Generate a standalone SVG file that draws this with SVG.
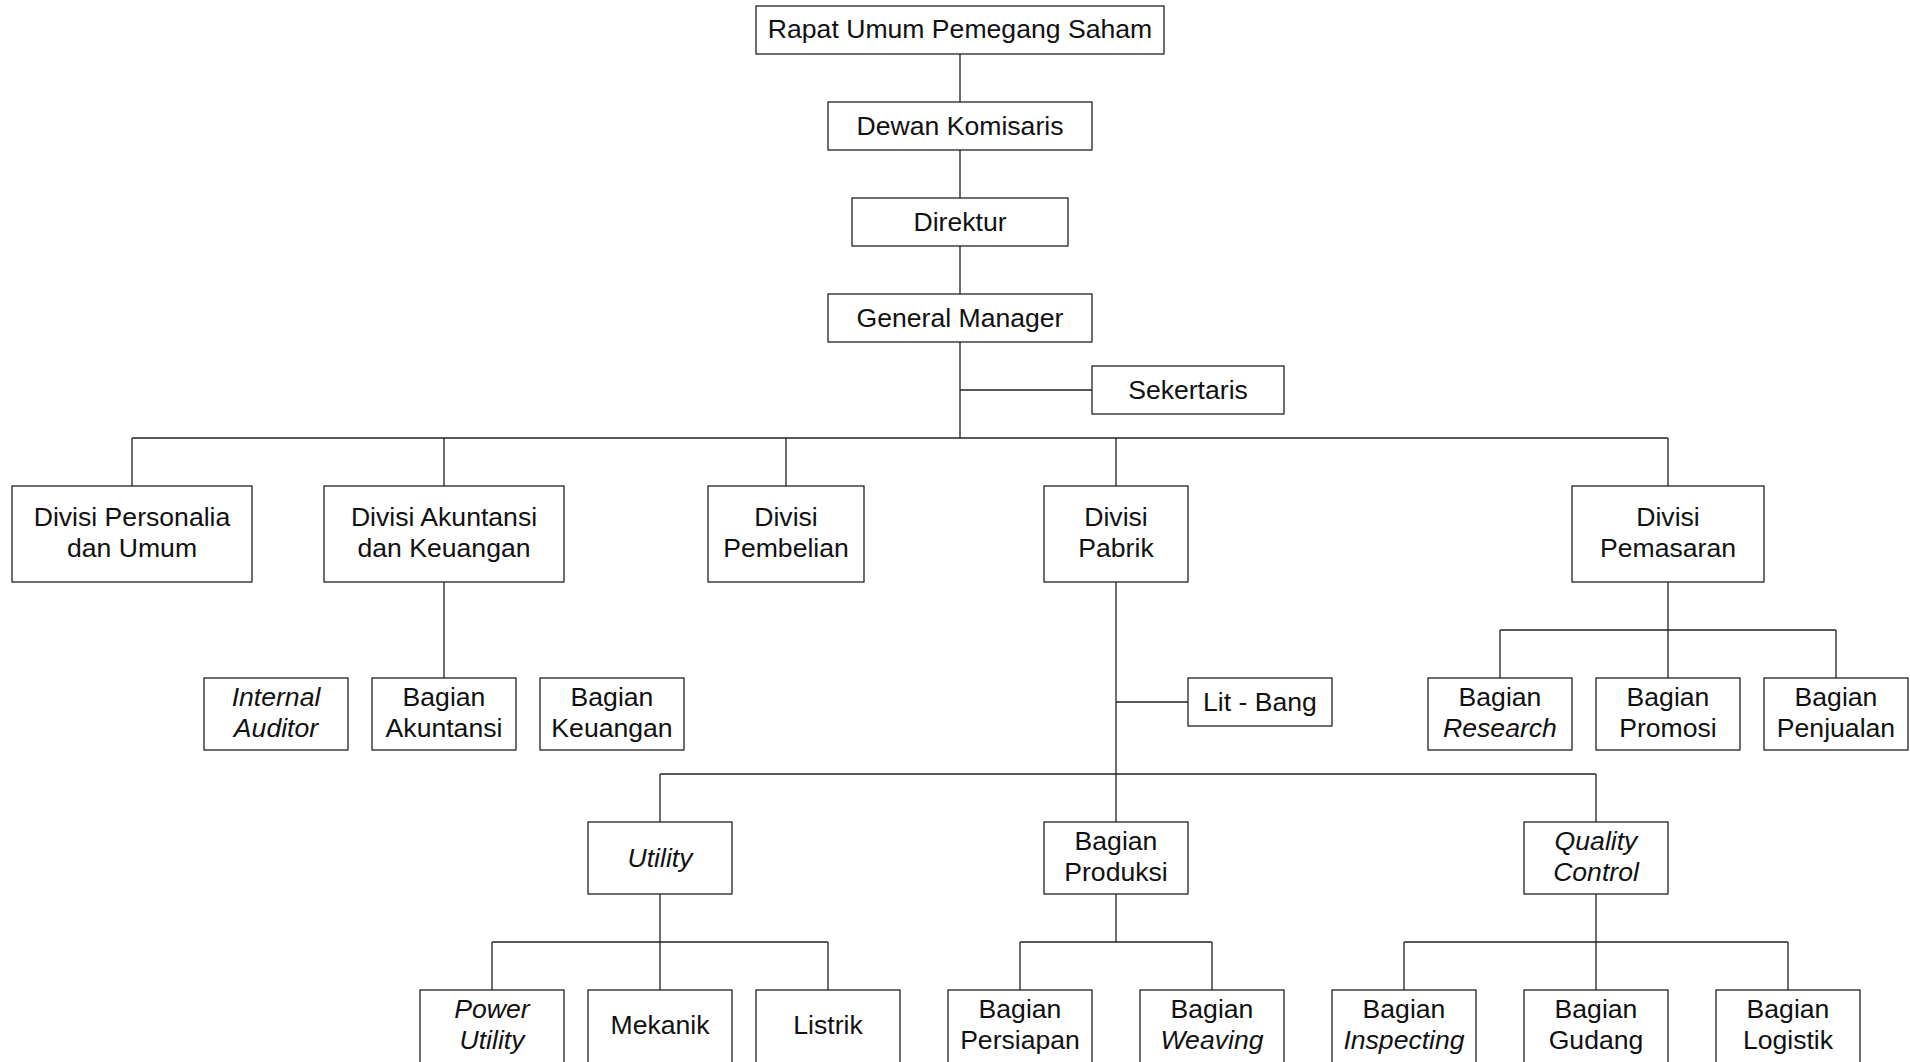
<svg xmlns="http://www.w3.org/2000/svg" width="1910" height="1062" viewBox="0 0 1910 1062">
<style>
rect.b{fill:#fff;stroke:#222;stroke-width:1.3}
text{font-family:"Liberation Sans",Arial,sans-serif;font-size:26.6px;fill:#111;text-anchor:middle}
.i{font-style:italic}
#connectors path{fill:none;stroke:#222;stroke-width:1.3}
</style>
<rect width="1910" height="1062" fill="#fff"/>
<g id="connectors">
<path d="M960 54V294M960 342V438M960 390H1092"/>
<path d="M132 438H1668M132 438V486M444 438V486M786 438V486M1116 438V486M1668 438V486"/>
<path d="M444 582V678"/>
<path d="M1116 582V774M1116 702H1188"/>
<path d="M1668 582V678M1500 630H1836M1500 630V678M1836 630V678"/>
<path d="M660 774H1596M660 774V822M1116 774V822M1596 774V822"/>
<path d="M660 894V990M492 942H828M492 942V990M828 942V990"/>
<path d="M1116 894V942M1020 942H1212M1020 942V990M1212 942V990"/>
<path d="M1596 894V990M1404 942H1788M1404 942V990M1788 942V990"/>
</g>
<g id="n-rups"><rect class="b" x="756" y="6" width="408" height="48"/><text x="960" y="38">Rapat Umum Pemegang Saham</text></g>
<g id="n-dewan"><rect class="b" x="828" y="102" width="264" height="48"/><text x="960" y="135">Dewan Komisaris</text></g>
<g id="n-direktur"><rect class="b" x="852" y="198" width="216" height="48"/><text x="960" y="231">Direktur</text></g>
<g id="n-gm"><rect class="b" x="828" y="294" width="264" height="48"/><text x="960" y="327">General Manager</text></g>
<g id="n-sekertaris"><rect class="b" x="1092" y="366" width="192" height="48"/><text x="1188" y="399">Sekertaris</text></g>

<g id="n-personalia"><rect class="b" x="12" y="486" width="240" height="96"/><text x="132" y="526">Divisi Personalia</text><text x="132" y="557">dan Umum</text></g>
<g id="n-akuntansi"><rect class="b" x="324" y="486" width="240" height="96"/><text x="444" y="526">Divisi Akuntansi</text><text x="444" y="557">dan Keuangan</text></g>
<g id="n-pembelian"><rect class="b" x="708" y="486" width="156" height="96"/><text x="786" y="526">Divisi</text><text x="786" y="557">Pembelian</text></g>
<g id="n-pabrik"><rect class="b" x="1044" y="486" width="144" height="96"/><text x="1116" y="526">Divisi</text><text x="1116" y="557">Pabrik</text></g>
<g id="n-pemasaran"><rect class="b" x="1572" y="486" width="192" height="96"/><text x="1668" y="526">Divisi</text><text x="1668" y="557">Pemasaran</text></g>

<g id="n-auditor"><rect class="b" x="204" y="678" width="144" height="72"/><text class="i" x="276" y="706">Internal</text><text class="i" x="276" y="737">Auditor</text></g>
<g id="n-bag-akuntansi"><rect class="b" x="372" y="678" width="144" height="72"/><text x="444" y="706">Bagian</text><text x="444" y="737">Akuntansi</text></g>
<g id="n-bag-keuangan"><rect class="b" x="540" y="678" width="144" height="72"/><text x="612" y="706">Bagian</text><text x="612" y="737">Keuangan</text></g>
<g id="n-litbang"><rect class="b" x="1188" y="678" width="144" height="48"/><text x="1260" y="711">Lit - Bang</text></g>
<g id="n-research"><rect class="b" x="1428" y="678" width="144" height="72"/><text x="1500" y="706">Bagian</text><text class="i" x="1500" y="737">Research</text></g>
<g id="n-promosi"><rect class="b" x="1596" y="678" width="144" height="72"/><text x="1668" y="706">Bagian</text><text x="1668" y="737">Promosi</text></g>
<g id="n-penjualan"><rect class="b" x="1764" y="678" width="144" height="72"/><text x="1836" y="706">Bagian</text><text x="1836" y="737">Penjualan</text></g>

<g id="n-utility"><rect class="b" x="588" y="822" width="144" height="72"/><text class="i" x="660" y="867">Utility</text></g>
<g id="n-produksi"><rect class="b" x="1044" y="822" width="144" height="72"/><text x="1116" y="850">Bagian</text><text x="1116" y="881">Produksi</text></g>
<g id="n-qc"><rect class="b" x="1524" y="822" width="144" height="72"/><text class="i" x="1596" y="850">Quality</text><text class="i" x="1596" y="881">Control</text></g>

<g id="n-power"><rect class="b" x="420" y="990" width="144" height="80"/><text class="i" x="492" y="1018">Power</text><text class="i" x="492" y="1049">Utility</text></g>
<g id="n-mekanik"><rect class="b" x="588" y="990" width="144" height="80"/><text x="660" y="1034">Mekanik</text></g>
<g id="n-listrik"><rect class="b" x="756" y="990" width="144" height="80"/><text x="828" y="1034">Listrik</text></g>
<g id="n-persiapan"><rect class="b" x="948" y="990" width="144" height="80"/><text x="1020" y="1018">Bagian</text><text x="1020" y="1049">Persiapan</text></g>
<g id="n-weaving"><rect class="b" x="1140" y="990" width="144" height="80"/><text x="1212" y="1018">Bagian</text><text class="i" x="1212" y="1049">Weaving</text></g>
<g id="n-inspecting"><rect class="b" x="1332" y="990" width="144" height="80"/><text x="1404" y="1018">Bagian</text><text class="i" x="1404" y="1049">Inspecting</text></g>
<g id="n-gudang"><rect class="b" x="1524" y="990" width="144" height="80"/><text x="1596" y="1018">Bagian</text><text x="1596" y="1049">Gudang</text></g>
<g id="n-logistik"><rect class="b" x="1716" y="990" width="144" height="80"/><text x="1788" y="1018">Bagian</text><text x="1788" y="1049">Logistik</text></g>
</svg>
